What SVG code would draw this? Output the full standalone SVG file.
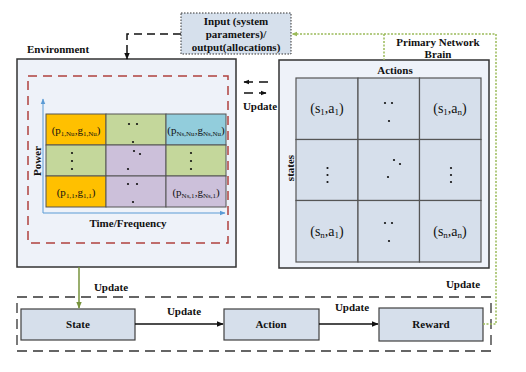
<svg xmlns="http://www.w3.org/2000/svg" width="526" height="372" viewBox="0 0 526 372">
<style>
.lb{font-family:"Liberation Serif","Times New Roman",serif;font-weight:bold;font-size:11px;fill:#111;}
.cv{font-family:"Liberation Serif","Times New Roman",serif;font-size:11px;fill:#111;}
.cb{font-family:"Liberation Serif","Times New Roman",serif;font-size:14px;fill:#111;}
.box{fill:#d6dfeb;stroke:#404040;stroke-width:1.2;}
.cell{stroke:#555;stroke-width:1;}
.bcell{fill:#d6dfeb;stroke:#555;stroke-width:1.2;}
.dot{fill:#111;}
</style>
<defs>
<marker id="ab" viewBox="0 0 10 10" refX="9" refY="5" markerWidth="7" markerHeight="7" markerUnits="userSpaceOnUse" orient="auto"><path d="M0,1 L10,5 L0,9 Z" fill="#111"/></marker>
<marker id="abs" viewBox="0 0 10 10" refX="9" refY="5" markerWidth="6" markerHeight="6" markerUnits="userSpaceOnUse" orient="auto"><path d="M0,1 L10,5 L0,9 Z" fill="#111"/></marker>
<marker id="ag" viewBox="0 0 10 10" refX="9" refY="5" markerWidth="7" markerHeight="7" markerUnits="userSpaceOnUse" orient="auto"><path d="M0,1 L10,5 L0,9 Z" fill="#77933c"/></marker>
<marker id="agl" viewBox="0 0 10 10" refX="9" refY="5" markerWidth="6" markerHeight="6" markerUnits="userSpaceOnUse" orient="auto"><path d="M0,1 L10,5 L0,9 Z" fill="#9bbb59"/></marker>
<marker id="abl" viewBox="0 0 10 10" refX="9" refY="5" markerWidth="6" markerHeight="6" markerUnits="userSpaceOnUse" orient="auto"><path d="M0,1 L10,5 L0,9 Z" fill="#5b9bd5"/></marker>
</defs>

<g id="input">
<rect x="181" y="13" width="110" height="41" fill="#d6e0ec" stroke="#333" stroke-width="1" stroke-dasharray="1.5,1.5"/>
<text class="lb" x="236" y="25" text-anchor="middle">Input (system</text>
<text class="lb" x="236" y="38" text-anchor="middle">parameters)/</text>
<text class="lb" x="236" y="51" text-anchor="middle">output(allocations)</text>
</g>

<g id="environment">
<text class="lb" x="27" y="53">Environment</text>
<rect x="17" y="59" width="219" height="208" fill="#eef2f9" stroke="#333" stroke-width="1.5"/>
<rect x="28" y="76" width="200" height="167" fill="none" stroke="#b0413e" stroke-width="1.5" stroke-dasharray="9,6"/>
<rect class="cell" x="46" y="114" width="60" height="31" fill="#ffc000"/>
<rect class="cell" x="106" y="114" width="60" height="31" fill="#c4d79b"/>
<rect class="cell" x="166" y="114" width="60" height="31" fill="#92cddc"/>
<rect class="cell" x="46" y="145" width="60" height="31" fill="#c4d79b"/>
<rect class="cell" x="106" y="145" width="60" height="31" fill="#ccc0da"/>
<rect class="cell" x="166" y="145" width="60" height="31" fill="#c4d79b"/>
<rect class="cell" x="46" y="176" width="60" height="31" fill="#ffc000"/>
<rect class="cell" x="106" y="176" width="60" height="31" fill="#ccc0da"/>
<rect class="cell" x="166" y="176" width="60" height="31" fill="#ccc0da"/>
<path d="M43,213 V99" stroke="#5b9bd5" stroke-width="1" fill="none" marker-end="url(#abl)"/>
<path d="M43,213 H225" stroke="#5b9bd5" stroke-width="1" fill="none" marker-end="url(#abl)"/>
<text class="cv" x="76" y="134" text-anchor="middle">(p<tspan font-size="7" dy="2">1,Nu</tspan><tspan dy="-2">,g</tspan><tspan font-size="7" dy="2">1,Nu</tspan><tspan dy="-2">)</tspan></text>
<text class="cv" x="196" y="134" text-anchor="middle">(p<tspan font-size="7" dy="2">Ns,Nu</tspan><tspan dy="-2">,g</tspan><tspan font-size="7" dy="2">Ns,Nu</tspan><tspan dy="-2">)</tspan></text>
<text class="cv" x="76" y="196" text-anchor="middle">(p<tspan font-size="7" dy="2">1,1</tspan><tspan dy="-2">,g</tspan><tspan font-size="7" dy="2">1,1</tspan><tspan dy="-2">)</tspan></text>
<text class="cv" x="196" y="196" text-anchor="middle">(p<tspan font-size="7" dy="2">Ns,1</tspan><tspan dy="-2">,g</tspan><tspan font-size="7" dy="2">Ns,1</tspan><tspan dy="-2">)</tspan></text>
<circle class="dot" cx="129" cy="124" r="1.1"/><circle class="dot" cx="137" cy="124" r="1.1"/><circle class="dot" cx="133" cy="142" r="1.1"/>
<circle class="dot" cx="134" cy="151" r="1.1"/><circle class="dot" cx="140" cy="154" r="1.1"/><circle class="dot" cx="128" cy="169" r="1.1"/>
<circle class="dot" cx="128" cy="184" r="1.1"/><circle class="dot" cx="137" cy="184" r="1.1"/><circle class="dot" cx="133" cy="202" r="1.1"/>
<circle class="dot" cx="72" cy="153" r="1.1"/><circle class="dot" cx="72" cy="161" r="1.1"/><circle class="dot" cx="72" cy="169" r="1.1"/>
<circle class="dot" cx="191" cy="153" r="1.1"/><circle class="dot" cx="191" cy="161" r="1.1"/><circle class="dot" cx="191" cy="169" r="1.1"/>
<text class="lb" transform="translate(41,161) rotate(-90)" text-anchor="middle">Power</text>
<text class="lb" x="128" y="227" text-anchor="middle">Time/Frequency</text>
</g>

<g id="brain">
<text class="lb" x="438" y="46" text-anchor="middle">Primary Network</text>
<text class="lb" x="438" y="58" text-anchor="middle">Brain</text>
<rect x="279" y="60" width="210" height="208" fill="#eef2f9" stroke="#333" stroke-width="1.5"/>
<text class="lb" x="395" y="74" text-anchor="middle">Actions</text>
<text class="lb" transform="translate(294,168) rotate(-90)" text-anchor="middle">states</text>
<rect class="bcell" x="296" y="78" width="62" height="61.5"/>
<rect class="bcell" x="358" y="78" width="61.5" height="61.5"/>
<rect class="bcell" x="419.5" y="78" width="61.5" height="61.5"/>
<rect class="bcell" x="296" y="139.5" width="62" height="61"/>
<rect class="bcell" x="358" y="139.5" width="61.5" height="61"/>
<rect class="bcell" x="419.5" y="139.5" width="61.5" height="61"/>
<rect class="bcell" x="296" y="200.5" width="62" height="61.5"/>
<rect class="bcell" x="358" y="200.5" width="61.5" height="61.5"/>
<rect class="bcell" x="419.5" y="200.5" width="61.5" height="61.5"/>
<text class="cb" x="327" y="113" text-anchor="middle">(s<tspan font-size="9" dy="2">1</tspan><tspan dy="-2">,a</tspan><tspan font-size="9" dy="2">1</tspan><tspan dy="-2">)</tspan></text>
<text class="cb" x="450" y="113" text-anchor="middle">(s<tspan font-size="9" dy="2">1</tspan><tspan dy="-2">,a</tspan><tspan font-size="9" dy="2">n</tspan><tspan dy="-2">)</tspan></text>
<text class="cb" x="327" y="236" text-anchor="middle">(s<tspan font-size="9" dy="2">n</tspan><tspan dy="-2">,a</tspan><tspan font-size="9" dy="2">1</tspan><tspan dy="-2">)</tspan></text>
<text class="cb" x="450" y="236" text-anchor="middle">(s<tspan font-size="9" dy="2">n</tspan><tspan dy="-2">,a</tspan><tspan font-size="9" dy="2">n</tspan><tspan dy="-2">)</tspan></text>
<circle class="dot" cx="385" cy="103" r="1.1"/><circle class="dot" cx="392" cy="103" r="1.1"/><circle class="dot" cx="389" cy="121" r="1.1"/>
<circle class="dot" cx="394" cy="160" r="1.1"/><circle class="dot" cx="400" cy="164" r="1.1"/><circle class="dot" cx="388" cy="177" r="1.1"/>
<circle class="dot" cx="385" cy="223" r="1.1"/><circle class="dot" cx="392" cy="223" r="1.1"/><circle class="dot" cx="389" cy="241" r="1.1"/>
<circle class="dot" cx="327.5" cy="168" r="1.1"/><circle class="dot" cx="327.5" cy="175" r="1.1"/><circle class="dot" cx="327.5" cy="182" r="1.1"/>
<circle class="dot" cx="451" cy="168" r="1.1"/><circle class="dot" cx="451" cy="175" r="1.1"/><circle class="dot" cx="451" cy="182" r="1.1"/>
</g>

<g id="loop">
<rect x="17" y="297" width="474" height="54" fill="none" stroke="#333" stroke-width="1.3" stroke-dasharray="10,6"/>
</g>
<g id="state">
<rect class="box" x="21" y="309" width="114" height="31"/>
<text class="lb" x="78" y="328" text-anchor="middle">State</text>
</g>
<g id="action">
<rect class="box" x="224" y="309" width="95" height="31"/>
<text class="lb" x="271" y="328" text-anchor="middle">Action</text>
</g>
<g id="reward">
<rect class="box" x="379" y="308" width="104" height="33"/>
<text class="lb" x="431" y="328" text-anchor="middle">Reward</text>
</g>

<g id="connectors">
<path d="M181,34 H127 V59" fill="none" stroke="#111" stroke-width="1.5" stroke-dasharray="8,5" marker-end="url(#ab)"/>
<path d="M268,82 H244" fill="none" stroke="#111" stroke-width="1.3" stroke-dasharray="9,6" marker-end="url(#abs)"/>
<path d="M244,93 H266" fill="none" stroke="#111" stroke-width="1.3" stroke-dasharray="9,6" marker-end="url(#abs)"/>
<text class="lb" x="260" y="110" text-anchor="middle">Update</text>
<path d="M483,324 H496 V34 H292" fill="none" stroke="#9bbb59" stroke-width="1.5" stroke-dasharray="2,1.5" marker-end="url(#agl)"/>
<path d="M384,34 V60" fill="none" stroke="#9bbb59" stroke-width="1.5" stroke-dasharray="2,1.5"/>
<path d="M79,267 V308" fill="none" stroke="#77933c" stroke-width="1.5" marker-end="url(#ag)"/>
<text class="lb" x="111" y="291" text-anchor="middle">Update</text>
<text class="lb" x="463" y="288" text-anchor="middle">Update</text>
<path d="M135,324 H223" fill="none" stroke="#111" stroke-width="1.3" marker-end="url(#ab)"/>
<text class="lb" x="184" y="315" text-anchor="middle">Update</text>
<path d="M319,324 H378" fill="none" stroke="#111" stroke-width="1.3" marker-end="url(#ab)"/>
<text class="lb" x="352" y="311" text-anchor="middle">Update</text>
</g>
</svg>
